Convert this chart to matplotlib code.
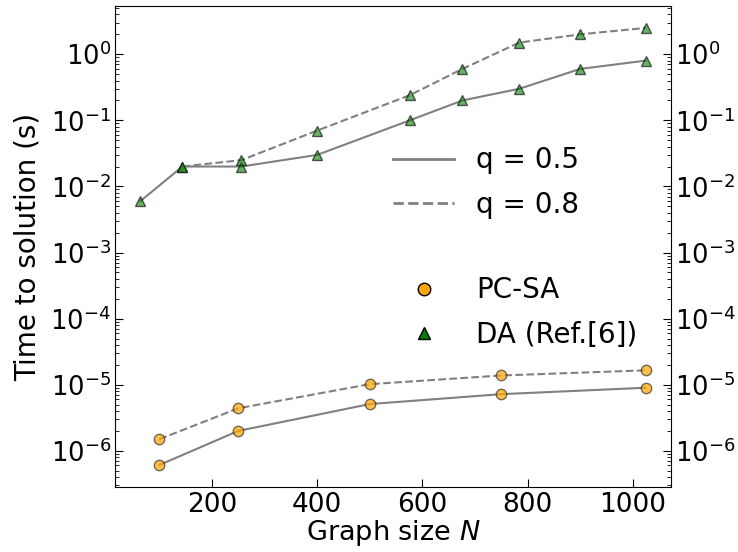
import matplotlib
matplotlib.use("Agg")
import matplotlib.pyplot as plt
from matplotlib.lines import Line2D

# Data
N_da_05 = [64, 144, 256, 400, 576, 676, 784, 900, 1024]
t_da_05 = [0.006, 0.02, 0.02, 0.03, 0.1, 0.2, 0.3, 0.6, 0.8]
N_da_08 = [144, 256, 400, 576, 676, 784, 900, 1024]
t_da_08 = [0.02, 0.025, 0.07, 0.24, 0.6, 1.5, 2.0, 2.5]
N_pc = [100, 250, 500, 750, 1024]
t_pc_05 = [6.1e-7, 2.0e-6, 5.1e-6, 7.2e-6, 9.0e-6]
t_pc_08 = [1.5e-6, 4.4e-6, 1.02e-5, 1.38e-5, 1.65e-5]

fig = plt.figure(figsize=(7.38, 5.52), dpi=100)
ax = fig.add_axes([0.156, 0.118, 0.753, 0.871])

kw_da = dict(marker='^', color='gray', markerfacecolor=(0, 0.5, 0, 0.6),
             markeredgecolor=(0.1, 0.1, 0.1, 0.7), markersize=7, lw=1.5)
kw_pc = dict(marker='o', color='gray', markerfacecolor=(1, 0.647, 0, 0.7),
             markeredgecolor=(0.1, 0.1, 0.1, 0.6), markersize=7.5, lw=1.5)

ax.plot(N_da_05, t_da_05, ls='-', **kw_da)
ax.plot(N_da_08, t_da_08, ls='--', **kw_da)
ax.plot(N_pc, t_pc_05, ls='-', **kw_pc)
ax.plot(N_pc, t_pc_08, ls='--', **kw_pc)

ax.set_yscale('log')
ax.set_xlabel('Graph size $N$', fontsize=19.5, labelpad=0)
ax.set_ylabel('Time to solution (s)', fontsize=20, labelpad=6)
ax.tick_params(axis='both', which='both', direction='in', right=True, labelright=True)
ax.tick_params(axis='x', labelsize=19)
ax.tick_params(axis='y', labelsize=18.5, pad=3)
ax.tick_params(axis='both', which='major', length=6)
ax.tick_params(axis='y', which='minor', length=3)
ax.set_xticks([200, 400, 600, 800, 1000])

h1 = [Line2D([], [], color='gray', ls='-', lw=2),
      Line2D([], [], color='gray', ls='--', lw=2)]
leg1 = ax.legend(h1, ['q = 0.5', 'q = 0.8'], frameon=False, fontsize=20,
                 loc='upper left', bbox_to_anchor=(0.455, 0.76), handlelength=2.2,
                 labelspacing=0.6)
ax.add_artist(leg1)
h2 = [Line2D([], [], ls='', marker='o', markerfacecolor='orange', markeredgecolor='black', markersize=9),
      Line2D([], [], ls='', marker='^', markerfacecolor='green', markeredgecolor='black', markersize=9)]
ax.legend(h2, ['PC-SA', 'DA (Ref.[6])'], frameon=False, fontsize=20,
          loc='upper left', bbox_to_anchor=(0.455, 0.49), handlelength=2.2,
          labelspacing=0.6)

fig.savefig('out.png', dpi=100)
